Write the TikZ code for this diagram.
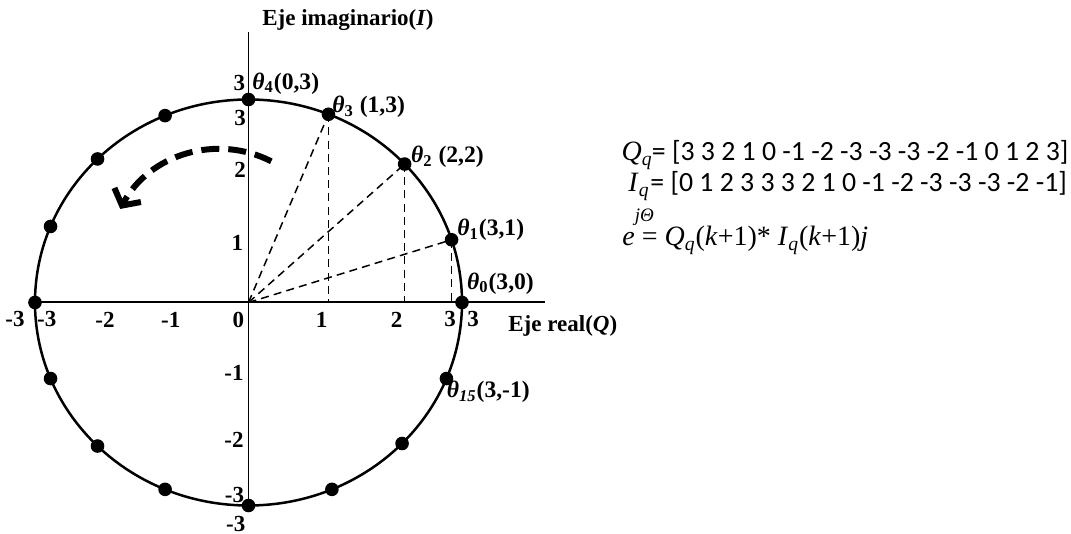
\documentclass[tikz,border=0pt]{standalone}
\usepackage{fontspec}
\setmainfont{Liberation Serif}
\newfontfamily\calibfont{Carlito}
\usetikzlibrary{arrows.meta}
\newcommand\thl[1]{{\itshape θ}\textsubscript{#1}}
\tikzset{
  iq point/.style={
    circle, fill=black, draw=none,
    minimum size=6.8pt, inner sep=0pt, outer sep=0pt
  },
  axis line/.style={draw=black, line width=1pt},
  ring line/.style={draw=black, line width=1.25pt},
  proj line/.style={
    draw=black, line width=0.75pt, dash pattern=on 4pt off 2.6pt
  },
  turn arrow/.style={
    draw=black, line width=3pt, dash pattern=on 9pt off 4.5pt,
    -{Straight Barb[length=6pt,width=15pt]}
  },
  tick label/.style={
    inner sep=0pt, font=\fontsize{11.5}{13}\selectfont\bfseries
  },
  angle label/.style={
    anchor=west, inner sep=0pt, font=\fontsize{11.8}{14}\selectfont\bfseries
  },
  axis title/.style={
    anchor=west, inner sep=0pt, font=\fontsize{11.5}{13}\selectfont\bfseries
  },
  eq text/.style={
    anchor=base west, inner sep=0pt, font=\fontsize{14}{16}\selectfont
  },
  list text/.style={
    anchor=base west, inner sep=0pt, font=\calibfont\fontsize{13.9}{16}\selectfont
  }
}

\begin{document}
\begin{tikzpicture}[x=0.5pt,y=0.5pt]
  \useasboundingbox (-248.5,-231.5) rectangle (822.5,302.5);
  \coordinate (o) at (0,0);
  \coordinate (imag top) at (0,270.5);
  \coordinate (real end) at (296.5,0);
  \coordinate (spin c) at (-28.5,40.5);

  % Sixteen constellation points on the ring, theta_0 on the real axis.
  \foreach \a [count=\i from 0] in {0,18,43,68,90,113,135,158,180,202,225,247,270,293,316,338}
    \coordinate (p\i) at (\a:106.75pt and 101.5pt);

  % Ring and axes.
  \draw[ring line] (o) ellipse [x radius=106.75pt, y radius=101.5pt];
  \draw[axis line] (p8) -- (real end);
  \draw[axis line, line width=0.8pt] (imag top) -- (p12);

  % Projections of theta_1..theta_3 onto the origin and the real axis.
  \foreach \i in {1,2,3} {
    \draw[proj line] (o) -- (p\i);
    \draw[proj line] (p\i) -- (p\i |- o);
  }

  \foreach \i in {0,...,15}
    \node[iq point] (dot\i) at (p\i) {};

  % Direction of rotation.
  \draw[turn arrow] ([shift={(63:56.5pt)}]spin c) arc[start angle=63, end angle=152, radius=56.5pt];

  % Axis ticks, as printed.
  \foreach \x/\t [count=\k] in {-233.5/-3,-201.8/-3,-143.5/-2,-77.8/-1,-10/0,73/1,148/2,201.5/3,224.5/3}
    \node[tick label] (xtick\k) at (\x,-17) {\t};
  \foreach \x/\y/\t [count=\k] in {-9.2/219.2/3,-8.5/184.5/3,-8.5/132.5/2,-11/59.8/1,-14.5/-70.2/-1,-14.5/-137.5/-2,-14/-192.5/-3,-12.8/-221.5/-3}
    \node[tick label] (ytick\k) at (\x,\y) {\t};

  \node[axis title] (imag title) at (13.5,282.5) {Eje imaginario(\textit{I})};
  \node[axis title] (real title) at (259.5,-23.5) {Eje real(\textit{Q})};

  % Point labels.
  \node[angle label] (lab0) at (218.2,19.2) {\thl{0}(3,0)};
  \node[angle label] (lab1) at (208.5,72.5) {\thl{1}(3,1)};
  \node[angle label] (lab2) at (162.2,145.8) {\thl{2} (2,2)};
  \node[angle label] (lab3) at (83.5,195.8) {\thl{3} (1,3)};
  \node[angle label] (lab4) at (3.5,219.2) {\thl{4}(0,3)};
  \node[angle label] (lab15) at (198,-89.2) {\thl{\textit{15}}(3,-1)};

  % Sequences and the phasor.
  \node[eq text, anchor=base east] (qname) at (404.5,141.5) {\textit{Q}\textsubscript{\textit{q}}};
  \node[list text] (qlist) at (403,141.5) {= [3 3 2 1 0 -1 -2 -3 -3 -3 -2 -1 0 1 2 3]};
  \node[eq text, anchor=base east] (iname) at (401.5,110.5) {\textit{I}\textsubscript{\textit{q}}};
  \node[list text] (ilist) at (401.5,110.5) {= [0 1 2 3 3 3 2 1 0 -1 -2 -3 -3 -3 -2 -1]};
  \node[eq text] (phasor) at (373.5,56.5)
    {\textit{e}\rlap{\raisebox{1.9ex}{\fontsize{9.5}{10}\selectfont\textit{jΘ}}}\kern3.5pt= \textit{Q}\textsubscript{\textit{q}}(\textit{k}+1)* \textit{I}\textsubscript{\textit{q}}(\textit{k}+1)\textit{j}};
\end{tikzpicture}
\end{document}
